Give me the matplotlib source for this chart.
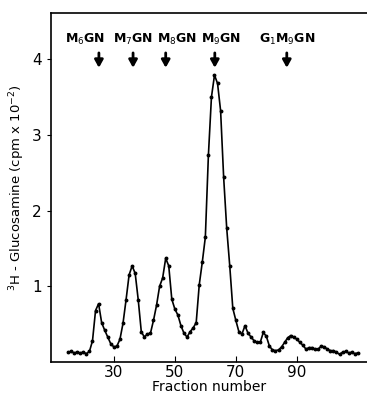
import matplotlib
matplotlib.use("Agg")
import matplotlib.pyplot as plt

fractions = list(range(15, 111))
counts = [0.13, 0.14, 0.12, 0.13, 0.12, 0.13, 0.11, 0.14, 0.28, 0.68,
          0.77, 0.52, 0.42, 0.33, 0.24, 0.20, 0.21, 0.30, 0.51, 0.82,
          1.15, 1.27, 1.17, 0.82, 0.40, 0.33, 0.37, 0.38, 0.55, 0.75,
          1.00, 1.11, 1.37, 1.27, 0.83, 0.70, 0.62, 0.48, 0.38, 0.33,
          0.40, 0.45, 0.52, 1.02, 1.32, 1.65, 2.73, 3.50, 3.79, 3.68,
          3.32, 2.44, 1.77, 1.27, 0.71, 0.55, 0.40, 0.37, 0.48, 0.38,
          0.33, 0.28, 0.26, 0.26, 0.39, 0.34, 0.21, 0.16, 0.15, 0.16,
          0.20, 0.26, 0.32, 0.35, 0.33, 0.30, 0.26, 0.22, 0.17, 0.19,
          0.19, 0.17, 0.17, 0.21, 0.20, 0.17, 0.15, 0.15, 0.13, 0.10,
          0.13, 0.14, 0.12, 0.13, 0.11, 0.12]

# standards: label, label x, arrow x
std_labels = ["M$_6$GN", "M$_7$GN", "M$_8$GN", "M$_9$GN", "G$_1$M$_9$GN"]
label_pos = [20.5, 36.3, 50.6, 65.0, 86.7]
arrow_pos = [25.1, 36.3, 47.0, 63.1, 86.7]

fig = plt.figure(figsize=(3.67, 3.95), dpi=100)
ax = fig.add_axes([0.139, 0.0835, 0.861, 0.8835])

ax.plot(fractions, counts, color="black", lw=1.2, marker="o", ms=1.8)

for lab, lx, axx in zip(std_labels, label_pos, arrow_pos):
    ax.text(lx, 4.26, lab, ha="center", va="center", fontsize=9, fontweight="bold")
    ax.annotate("", xy=(axx, 3.85), xytext=(axx, 4.12),
                arrowprops=dict(arrowstyle="-|>,head_width=0.25,head_length=0.45",
                                color="black", lw=2))

ax.set_xlim(9.4, 113)
ax.set_ylim(0, 4.61)
ax.set_xticks([30, 50, 70, 90])
ax.set_yticks([1, 2, 3, 4])
ax.tick_params(axis="x", direction="in", length=4, labelsize=11, pad=2)
ax.tick_params(axis="y", direction="out", length=3, labelsize=11)
ax.spines["right"].set_visible(False)
for s in ["left", "top", "bottom"]:
    ax.spines[s].set_linewidth(1.2)

ax.set_xlabel("Fraction number", fontsize=10, labelpad=0)
ax.set_ylabel("$^3$H - Glucosamine (cpm x 10$^{-2}$)", fontsize=9.5, labelpad=4)

fig.savefig("out.png", dpi=100)
